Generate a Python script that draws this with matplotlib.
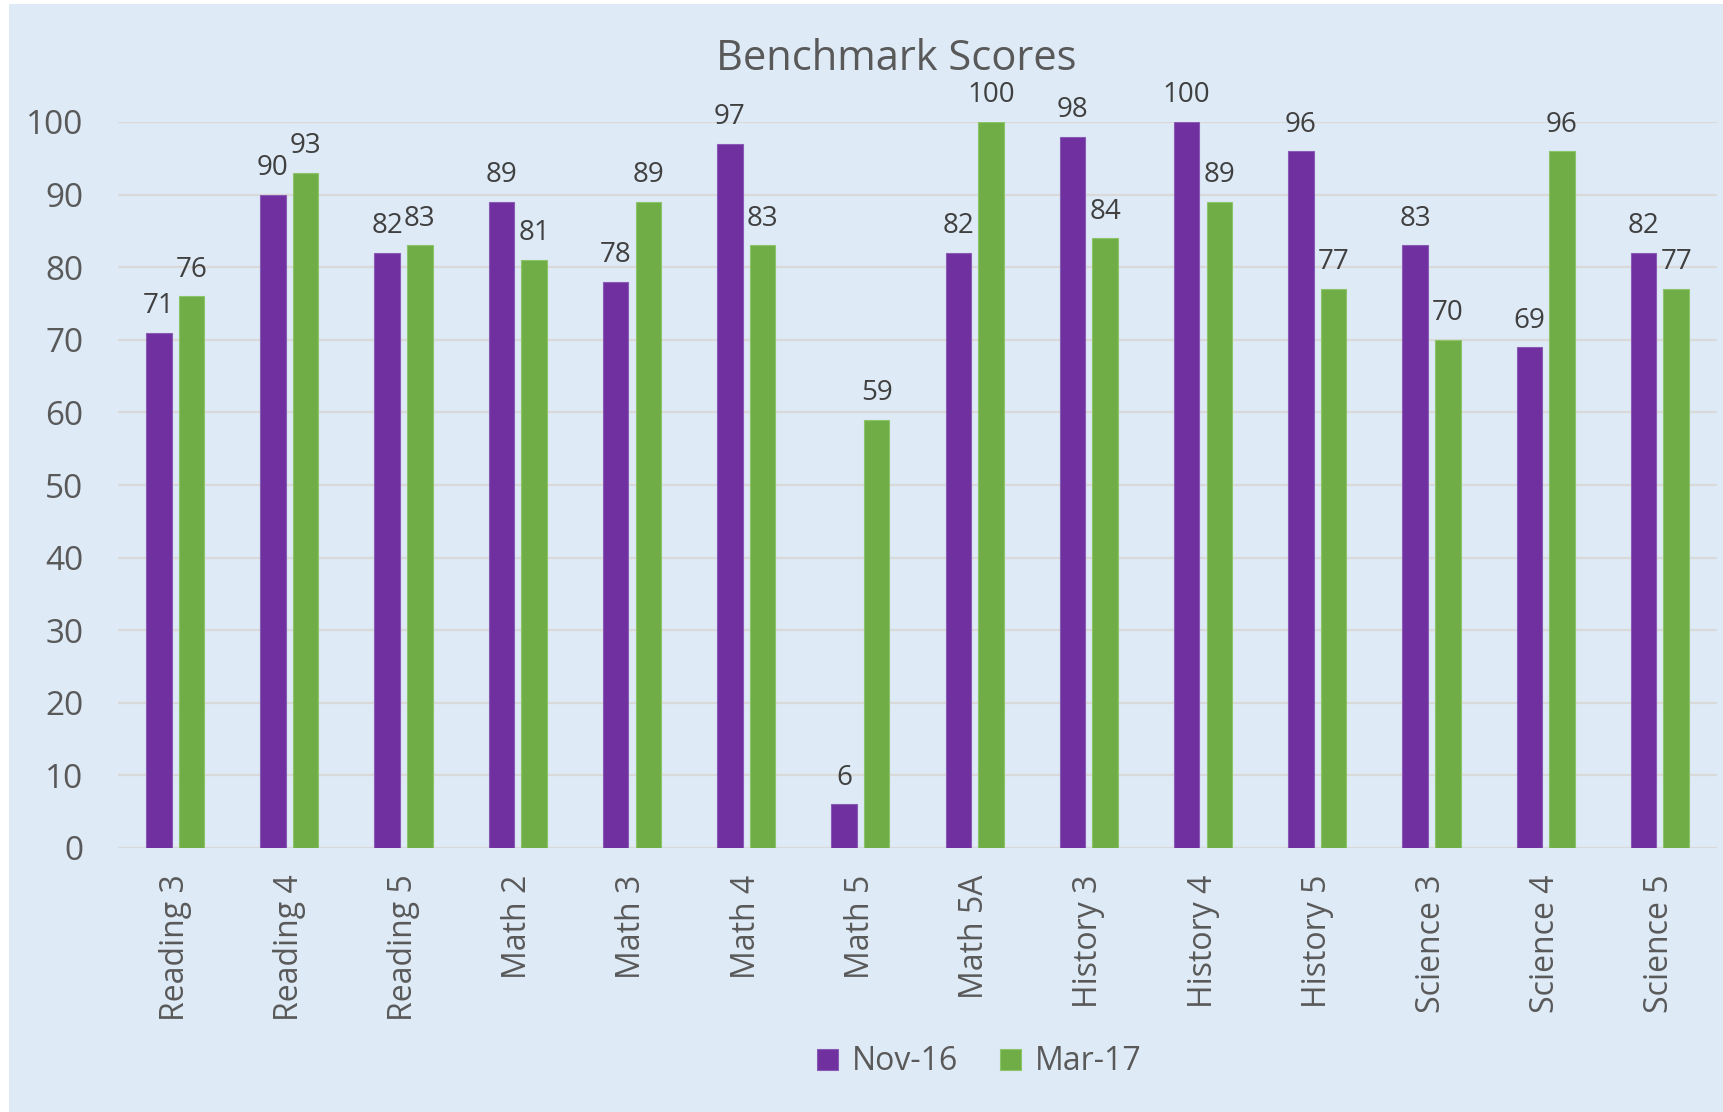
import matplotlib
matplotlib.use("Agg")
from matplotlib import pyplot as plt
from matplotlib.patches import Rectangle
import numpy as np

# data
subjects = ["Reading 3", "Reading 4", "Reading 5", "Math 2", "Math 3", "Math 4",
            "Math 5", "Math 5A", "History 3", "History 4", "History 5",
            "Science 3", "Science 4", "Science 5"]
nov16 = [71, 90, 82, 89, 78, 97, 6, 82, 98, 100, 96, 83, 69, 82]
mar17 = [76, 93, 83, 81, 89, 83, 59, 100, 84, 89, 77, 70, 96, 77]
series_names = ["Nov-16", "Mar-17"]
yticks = [0, 10, 20, 30, 40, 50, 60, 70, 80, 90, 100]

purple = "#7030A0"
green = "#70AD47"
bg = "#DEEAF6"
txt = "#595959"

plt.rcParams['font.family'] = ['Open Sans', 'DejaVu Sans']

fig = plt.figure(figsize=(17.24, 11.12), dpi=100)
fig.patch.set_facecolor("white")
# light blue chart area (small white margin at left/top)
fig.patches.append(Rectangle((9 / 1724, 0), 1 - 9 / 1724, 1 - 4 / 1112,
                             transform=fig.transFigure, facecolor=bg,
                             edgecolor="none", zorder=-10))

ax = fig.add_axes([118 / 1724, 1 - 848 / 1112, (1717 - 118) / 1724, (848 - 122) / 1112])
ax.set_facecolor("none")

x = np.arange(len(subjects))
w = 0.223
off = 0.143
b1 = ax.bar(x - off, nov16, w, color=purple, edgecolor="#8a5ab5", linewidth=0.8,
            label=series_names[0], zorder=3)
b2 = ax.bar(x + off, mar17, w, color=green, edgecolor="#8cc46a", linewidth=0.8,
            label=series_names[1], zorder=3)

ax.bar_label(b1, padding=9, fontsize=20, color="#404040")
ax.bar_label(b2, padding=9, fontsize=20, color="#404040")

ax.set_xlim(-0.5, len(subjects) - 0.5)
ax.set_ylim(0, 100)
ax.set_yticks(yticks)
ax.yaxis.grid(True, color="#D9D9D9", linewidth=1.6, zorder=0)
ax.set_axisbelow(True)
ax.set_xticks(x)
ax.set_xticklabels(subjects, rotation=90, fontsize=23, color=txt)
ax.tick_params(axis="y", labelsize=24, labelcolor=txt, length=0, pad=25)
ax.tick_params(axis="x", length=0, pad=19)
for s in ax.spines.values():
    s.set_visible(False)

fig.text(0.52, 0.947, "Benchmark Scores", ha="center", va="center",
         fontsize=30, color=txt)

fig.legend(handles=[b1, b2], loc="center", bbox_to_anchor=(0.568, 0.045),
           ncol=2, frameon=False, fontsize=23, labelcolor=txt,
           handlelength=0.65, handleheight=0.65, handletextpad=0.45,
           columnspacing=1.3)

fig.savefig("out.png", dpi=100, facecolor=fig.get_facecolor())
